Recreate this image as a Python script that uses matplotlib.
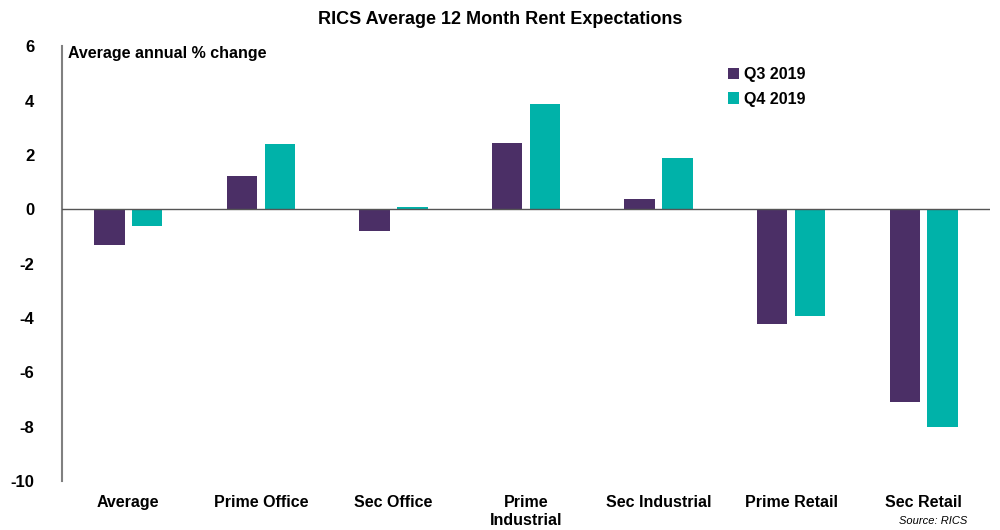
import matplotlib
matplotlib.use("Agg")
import matplotlib.pyplot as plt
import numpy as np

categories = ["Average", "Prime Office", "Sec Office", "Prime\nIndustrial",
              "Sec Industrial", "Prime Retail", "Sec Retail"]
q3_2019 = [-1.32, 1.21, -0.80, 2.43, 0.37, -4.23, -7.10]
q4_2019 = [-0.62, 2.39, 0.10, 3.86, 1.90, -3.93, -8.00]
series_names = ["Q3 2019", "Q4 2019"]
yticks = [6, 4, 2, 0, -2, -4, -6, -8, -10]

plt.rcParams['font.family'] = ['Liberation Sans', 'DejaVu Sans']

fig = plt.figure(figsize=(10, 5.3), dpi=100)
ax = fig.add_axes([0.062, 0.092, 0.928, 0.821])

x = np.arange(len(categories))
w = 0.23
off = 0.143
ax.bar(x - off, q3_2019, width=w, color="#4B2F66", label=series_names[0])
ax.bar(x + off, q4_2019, width=w, color="#00B2A9", label=series_names[1])

ax.set_xlim(-0.5, len(categories) - 0.5)
ax.set_ylim(-10, 6)
ax.set_yticks(yticks)
ax.set_yticklabels([str(t) for t in yticks], fontsize=12, fontweight="bold")
ax.tick_params(axis="y", length=0, pad=20)
ax.set_xticks([])

for s in ["top", "right", "bottom"]:
    ax.spines[s].set_visible(False)
ax.spines["left"].set_color("#808080")
ax.spines["left"].set_linewidth(1.5)
ax.axhline(0, color="#555555", linewidth=1.0, zorder=3)

narrow = ['Liberation Sans Narrow', 'Liberation Sans', 'DejaVu Sans']
for i, c in enumerate(categories):
    ax.text(i, -10.5, c, ha="center", va="top", fontsize=11.5, fontweight="bold",
            family=narrow, linespacing=1.25)

ax.text(0.006, 1.0, "Average annual % change", transform=ax.transAxes,
        ha="left", va="top", fontsize=11.5, fontweight="bold")

leg = ax.legend(loc="upper left", bbox_to_anchor=(0.702, 0.985), frameon=False,
                prop={"weight": "bold", "size": 11.5},
                handlelength=0.7, handleheight=0.7, handletextpad=0.3,
                labelspacing=0.6)

fig.text(0.5, 0.963, "RICS Average 12 Month Rent Expectations", ha="center",
         va="center", fontsize=13, fontweight="bold")
fig.text(0.967, 0.008, "Source: RICS", ha="right", va="bottom", fontsize=8,
         style="italic", family=narrow)

fig.savefig("out.png", dpi=100)
